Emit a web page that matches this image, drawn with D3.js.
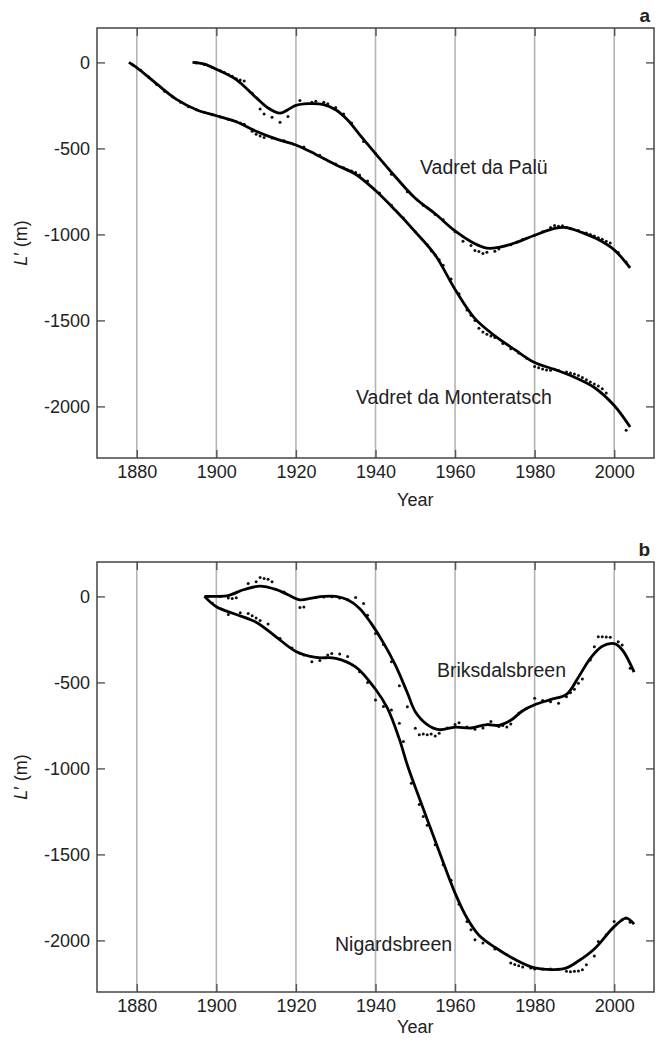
<!DOCTYPE html>
<html><head><meta charset="utf-8">
<script src="https://cdn.jsdelivr.net/npm/d3@7"></script>
<style>body{margin:0;background:#fff}svg{display:block}text{font-family:"Liberation Sans",Arial,Helvetica,sans-serif;fill:#222}</style>
</head><body><svg id="c" width="657" height="1043"></svg>
<script>
// ---- data ----
const xTicks = [1880, 1900, 1920, 1940, 1960, 1980, 2000];
const yTicks = [0, -500, -1000, -1500, -2000];

// Panel a: Vadret da Monteratsch (smoothed)
const monYears = [1878,1880,1885,1890,1895,1900,1905,1910,1915,1920,1925,1930,1935,1940,1945,1950,1955,1960,1965,1970,1975,1980,1985,1990,1995,2000,2004];
const monVals  = [0,-30,-125,-215,-275,-310,-345,-400,-445,-480,-535,-595,-650,-745,-860,-985,-1120,-1320,-1490,-1590,-1670,-1745,-1785,-1830,-1890,-1995,-2120];
// Monteratsch observations
const monObsYears = [1879,1881,1883,1885,1887,1889,1891,1893,1895,1897,1899,1901,1903,1905,1906,1907,1909,1910,1911,1912,1914,1917,1922,1926,1930,1932,1933,1934,1935,1936,1938,1941,1944,1947,1950,1953,1954,1955,1956,1957,1959,1961,1963,1964,1965,1966,1967,1968,1969,1970,1972,1974,1976,1978,1980,1981,1982,1983,1984,1986,1988,1989,1990,1991,1992,1993,1994,1995,1996,1997,1998,2003];
const monObsVals  = [-15,-45,-85,-128,-168,-200,-232,-258,-275,-290,-305,-318,-330,-345,-352,-360,-400,-418,-428,-436,-440,-455,-492,-540,-590,-612,-625,-632,-640,-655,-690,-760,-830,-905,-985,-1060,-1095,-1120,-1148,-1180,-1260,-1345,-1440,-1470,-1500,-1545,-1568,-1580,-1590,-1600,-1635,-1665,-1690,-1720,-1768,-1775,-1782,-1788,-1790,-1792,-1800,-1806,-1812,-1820,-1832,-1845,-1858,-1870,-1882,-1898,-1922,-2138];

// Panel a: Vadret da Palü (smoothed)
const palYears = [1894,1897,1900,1905,1910,1913,1916,1918,1920,1923,1927,1930,1933,1936,1940,1945,1950,1955,1960,1965,1968,1971,1975,1980,1985,1988,1992,1996,2000,2004];
const palVals  = [0,-10,-40,-100,-205,-265,-295,-275,-250,-240,-245,-275,-335,-420,-530,-665,-790,-880,-980,-1055,-1080,-1075,-1050,-1005,-965,-960,-990,-1030,-1090,-1195];
const palObsYears = [1895,1897,1899,1901,1902,1903,1904,1905,1906,1907,1909,1911,1912,1914,1916,1918,1921,1924,1925,1927,1928,1930,1932,1934,1937,1940,1944,1948,1952,1955,1957,1960,1962,1964,1965,1966,1967,1968,1970,1971,1974,1977,1980,1982,1984,1985,1986,1987,1988,1989,1991,1993,1994,1995,1996,1997,1998,1999,2001,2003];
const palObsVals  = [-3,-12,-30,-48,-58,-70,-80,-95,-102,-108,-180,-271,-300,-319,-348,-315,-222,-232,-226,-232,-240,-262,-300,-352,-460,-530,-650,-752,-830,-885,-915,-985,-1040,-1065,-1094,-1100,-1111,-1104,-1098,-1085,-1060,-1030,-1005,-985,-960,-948,-952,-950,-960,-967,-978,-992,-1000,-1010,-1020,-1028,-1040,-1050,-1105,-1160];

// Panel b: Briksdalsbreen (smoothed)
const briYears = [1897,1900,1903,1907,1911,1915,1918,1921,1924,1927,1930,1933,1936,1939,1942,1945,1948,1950,1953,1956,1960,1964,1968,1971,1974,1977,1980,1984,1988,1991,1994,1997,2000,2002,2005];
const briVals  = [0,0,5,40,60,40,10,-20,-10,0,0,-20,-70,-160,-270,-400,-560,-670,-745,-775,-760,-765,-745,-750,-720,-665,-630,-600,-570,-470,-360,-290,-275,-310,-440];
const briObsYears = [1898,1901,1903,1904,1905,1908,1910,1911,1912,1913,1914,1915,1917,1921,1922,1925,1927,1929,1931,1933,1935,1937,1938,1940,1942,1944,1946,1948,1950,1951,1952,1953,1954,1955,1956,1958,1960,1961,1963,1965,1967,1969,1971,1972,1973,1974,1976,1978,1980,1982,1984,1986,1988,1989,1990,1991,1992,1994,1995,1996,1997,1998,1999,2001,2002,2004];
const briObsVals  = [0,0,-10,-12,-8,75,85,110,104,100,85,40,25,-64,-62,-6,-4,-2,-10,-20,-6,-41,-109,-215,-280,-380,-520,-641,-767,-805,-800,-805,-800,-812,-795,-765,-745,-735,-760,-772,-765,-728,-757,-750,-760,-742,-680,-650,-592,-605,-612,-621,-583,-560,-540,-505,-480,-370,-293,-235,-235,-236,-238,-263,-283,-418];

// Panel b: Nigardsbreen (smoothed)
const nigYears = [1897,1900,1905,1910,1915,1920,1925,1930,1935,1940,1943,1946,1948,1950,1955,1960,1963,1966,1970,1975,1980,1985,1988,1991,1995,2000,2003,2005];
const nigVals  = [0,-60,-105,-150,-235,-320,-355,-360,-410,-540,-650,-830,-980,-1110,-1420,-1725,-1870,-1970,-2040,-2110,-2160,-2170,-2160,-2120,-2050,-1920,-1870,-1905];
const nigObsYears = [1899,1903,1906,1908,1909,1910,1911,1913,1916,1919,1921,1922,1924,1926,1928,1929,1931,1933,1936,1938,1940,1942,1944,1946,1947,1949,1951,1952,1953,1955,1957,1959,1961,1963,1964,1965,1967,1970,1973,1974,1975,1976,1977,1979,1980,1982,1984,1986,1988,1989,1990,1991,1992,1993,1995,1996,1998,2000,2002,2003,2004];
const nigObsVals  = [-40,-105,-95,-99,-112,-125,-140,-160,-245,-300,-330,-340,-380,-372,-340,-332,-335,-350,-438,-500,-602,-640,-660,-737,-844,-1086,-1210,-1280,-1330,-1444,-1560,-1650,-1790,-1890,-1938,-1996,-2015,-2050,-2083,-2131,-2140,-2148,-2155,-2160,-2166,-2166,-2166,-2168,-2180,-2182,-2180,-2178,-2170,-2141,-2090,-2006,-1967,-1890,-1880,-1870,-1895];

const panels = [
  {tag:"a", top:28, yearY:506, series:[
     {name:"Vadret da Monteratsch", yrs:monYears, vals:monVals, oy:monObsYears, ov:monObsVals, lx:356, ly:404},
     {name:"Vadret da Palü", yrs:palYears, vals:palVals, oy:palObsYears, ov:palObsVals, lx:420, ly:174}]},
  {tag:"b", top:562, yearY:1033, series:[
     {name:"Briksdalsbreen", yrs:briYears, vals:briVals, oy:briObsYears, ov:briObsVals, lx:437, ly:677},
     {name:"Nigardsbreen", yrs:nigYears, vals:nigVals, oy:nigObsYears, ov:nigObsVals, lx:335, ly:951}]}
];

// ---- drawing ----
const svg = d3.select("#c");
const L = 97, R = 654, H = 430;
const x = d3.scaleLinear().domain([1870, 2010]).range([L, R]);
const fmt = d => String(d);

panels.forEach(p => {
  const y = d3.scaleLinear().domain([-2300, 200]).range([p.top + H, p.top]);
  const g = svg.append("g");
  // gridlines
  g.selectAll("line.grid").data(xTicks).join("line")
    .attr("x1", d => x(d)).attr("x2", d => x(d))
    .attr("y1", p.top).attr("y2", p.top + H)
    .attr("stroke", "#b4b4b4").attr("stroke-width", 1.6);
  // axes
  const ax = (gen, tx, ty, lbl) => {
    const a = g.append("g").attr("transform", `translate(${tx},${ty})`).call(gen);
    a.select(".domain").remove();
    a.selectAll(".tick line").attr("stroke", "#555").attr("stroke-width", 1.4);
    if (!lbl) a.selectAll(".tick text").remove();
    else a.selectAll(".tick text").attr("font-size", 18).attr("fill", "#222");
    return a;
  };
  ax(d3.axisBottom(x).tickValues(xTicks).tickSize(-8).tickPadding(7).tickFormat(fmt), 0, p.top + H, true);
  ax(d3.axisTop(x).tickValues(xTicks).tickSize(-8), 0, p.top, false);
  ax(d3.axisLeft(y).tickValues(yTicks).tickSize(-8).tickPadding(7).tickFormat(fmt), L, 0, true);
  ax(d3.axisRight(y).tickValues(yTicks).tickSize(-8), R, 0, false);
  // frame
  g.append("rect").attr("x", L).attr("y", p.top).attr("width", R - L).attr("height", H)
    .attr("fill", "none").attr("stroke", "#444").attr("stroke-width", 1.5);

  p.series.forEach(s => {
    const obs = s.oy.map((d, i) => [d, s.ov[i]]);
    g.selectAll(null).data(obs).join("circle")
      .attr("cx", d => x(d[0])).attr("cy", d => y(d[1])).attr("r", 1.5).attr("fill", "#111");
    const pts = s.yrs.map((d, i) => [d, s.vals[i]]);
    g.append("path").datum(pts)
      .attr("d", d3.line().x(d => x(d[0])).y(d => y(d[1])).curve(d3.curveCatmullRom.alpha(0.5)))
      .attr("fill", "none").attr("stroke", "#000").attr("stroke-width", 2.8).attr("stroke-linejoin", "round");
    g.append("text").attr("x", s.lx).attr("y", s.ly).attr("font-size", 19.5).text(s.name);
  });

  g.append("text").attr("x", 650).attr("y", p.top - 6).attr("text-anchor", "end")
    .attr("font-size", 19).attr("font-weight", "bold").text(p.tag);
  g.append("text").attr("x", x(1950)).attr("y", p.yearY).attr("text-anchor", "middle")
    .attr("font-size", 18).text("Year");
  const yl = g.append("text").attr("transform", `translate(27,${p.top + H / 2}) rotate(-90)`)
    .attr("text-anchor", "middle").attr("font-size", 18);
  yl.append("tspan").attr("font-style", "italic").text("L");
  yl.append("tspan").text("′ (m)");
});
</script></body></html>
